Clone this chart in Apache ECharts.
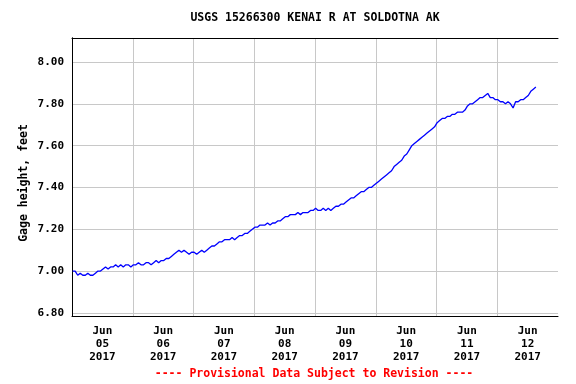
<!DOCTYPE html>
<html>
<head>
<meta charset="utf-8">
<script src="https://cdn.jsdelivr.net/npm/echarts@6/dist/echarts.min.js"></script>
<style>html,body{margin:0;padding:0;background:#fff;}#c{width:576px;height:384px;}</style>
</head>
<body>
<div id="c"></div>
<script>
// Hourly gage height (feet), starting Jun 05 2017 00:00
var gageHeight = [
  7.00, 7.00, 6.98, 6.99, 6.98, 6.98, 6.99, 6.98, 6.98, 6.99,
  7.00, 7.00, 7.01, 7.02, 7.01, 7.02, 7.02, 7.03, 7.02, 7.03,
  7.02, 7.03, 7.03, 7.02, 7.03, 7.03, 7.04, 7.03, 7.03, 7.04,
  7.04, 7.03, 7.04, 7.05, 7.04, 7.05, 7.05, 7.06, 7.06, 7.07,
  7.08, 7.09, 7.10, 7.09, 7.10, 7.09, 7.08, 7.09, 7.09, 7.08,
  7.09, 7.10, 7.09, 7.10, 7.11, 7.12, 7.12, 7.13, 7.14, 7.14,
  7.15, 7.15, 7.15, 7.16, 7.15, 7.16, 7.17, 7.17, 7.18, 7.18,
  7.19, 7.20, 7.21, 7.21, 7.22, 7.22, 7.22, 7.23, 7.22, 7.23,
  7.23, 7.24, 7.24, 7.25, 7.26, 7.26, 7.27, 7.27, 7.27, 7.28,
  7.27, 7.28, 7.28, 7.28, 7.29, 7.29, 7.30, 7.29, 7.29, 7.30,
  7.29, 7.30, 7.29, 7.30, 7.31, 7.31, 7.32, 7.32, 7.33, 7.34,
  7.35, 7.35, 7.36, 7.37, 7.38, 7.38, 7.39, 7.40, 7.40, 7.41,
  7.42, 7.43, 7.44, 7.45, 7.46, 7.47, 7.48, 7.50, 7.51, 7.52,
  7.53, 7.55, 7.56, 7.58, 7.60, 7.61, 7.62, 7.63, 7.64, 7.65,
  7.66, 7.67, 7.68, 7.69, 7.71, 7.72, 7.73, 7.73, 7.74, 7.74,
  7.75, 7.75, 7.76, 7.76, 7.76, 7.77, 7.79, 7.80, 7.80, 7.81,
  7.82, 7.83, 7.83, 7.84, 7.85, 7.83, 7.83, 7.82, 7.82, 7.81,
  7.81, 7.80, 7.81, 7.80, 7.78, 7.81, 7.81, 7.82, 7.82, 7.83,
  7.84, 7.86, 7.87, 7.88
];
var dayLabels = ['Jun\n05\n2017', 'Jun\n06\n2017', 'Jun\n07\n2017', 'Jun\n08\n2017',
                 'Jun\n09\n2017', 'Jun\n10\n2017', 'Jun\n11\n2017', 'Jun\n12\n2017'];
var titleText = 'USGS 15266300 KENAI R AT SOLDOTNA AK';
var footerText = '---- Provisional Data Subject to Revision ----';
var yAxisName = 'Gage height, feet';

var FONT = '"DejaVu Sans Mono", "Liberation Mono", monospace';
var data = gageHeight.map(function (v, i) { return [i + 0.25, v]; });

var chart = echarts.init(document.getElementById('c'), null, {renderer: 'canvas'});
chart.setOption({
  animation: false,
  backgroundColor: '#fff',
  grid: {left: 72, right: 18, top: 38, bottom: 68, show: false},
  graphic: [
    {type: 'text', x: 315, y: 18, style: {text: titleText, textAlign: 'center', textVerticalAlign: 'middle',
      font: 'bold 11.5px ' + FONT, fill: '#000'}},
    {type: 'text', x: 314, y: 374, style: {text: footerText, textAlign: 'center', textVerticalAlign: 'middle',
      font: 'bold 11.5px ' + FONT, fill: '#ff0000'}}
  ],
  xAxis: [
    {
      type: 'value', min: 0, max: 192, interval: 24, position: 'bottom',
      axisLine: {show: true, lineStyle: {color: '#000', width: 1}},
      axisTick: {show: false}, axisLabel: {show: false},
      splitLine: {show: true, showMinLine: false, showMaxLine: false, lineStyle: {color: '#c8c8c8', width: 1}}
    },
    {
      type: 'value', min: 0, max: 192, interval: 12, position: 'bottom',
      axisLine: {show: false}, axisTick: {show: false}, splitLine: {show: false},
      axisLabel: {
        show: true, margin: 9, color: '#000', fontFamily: FONT, fontWeight: 'bold', fontSize: 11, lineHeight: 13,
        showMinLabel: true, showMaxLabel: true,
        formatter: function (v) {
          if (Math.round(v) % 24 === 12) { return dayLabels[Math.floor(v / 24)] || ''; }
          return '';
        }
      }
    },
    {
      type: 'value', min: 0, max: 192, position: 'top',
      axisLine: {show: true, lineStyle: {color: '#000', width: 1}},
      axisTick: {show: false}, axisLabel: {show: false}, splitLine: {show: false}
    }
  ],
  yAxis: [
    {
      type: 'value', min: 6.785, max: 8.115, splitNumber: 7, minInterval: 0.2, maxInterval: 0.2,
      position: 'left',
      name: yAxisName, nameLocation: 'middle', nameRotate: 90, nameGap: 42, nameMoveOverlap: false,
      nameTextStyle: {color: '#000', fontFamily: FONT, fontWeight: 'bold', fontSize: 11.5, padding: [0, 12, 0, 0]},
      axisLine: {show: true, lineStyle: {color: '#000', width: 1}},
      axisTick: {show: false},
      axisLabel: {
        color: '#000', fontFamily: FONT, fontWeight: 'bold', fontSize: 11, margin: 8,
        showMinLabel: false, showMaxLabel: false,
        formatter: function (v) { return v.toFixed(2); }
      },
      splitLine: {show: true, showMinLine: false, showMaxLine: false, lineStyle: {color: '#c8c8c8', width: 1}}
    },
    {
      type: 'value', min: 6.785, max: 8.115, position: 'right',
      axisLine: {show: true, lineStyle: {color: '#000', width: 1}},
      axisTick: {show: false}, axisLabel: {show: false}, splitLine: {show: false}
    }
  ],
  series: [{
    type: 'line', xAxisIndex: 0, yAxisIndex: 0, data: data,
    showSymbol: false, symbol: 'none',
    lineStyle: {color: '#0000ff', width: 1.3},
    silent: true
  }]
});
</script>
</body>
</html>
